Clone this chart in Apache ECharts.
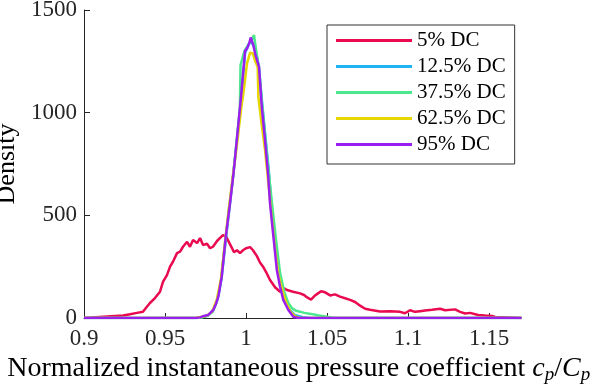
<!DOCTYPE html>
<html>
<head>
<meta charset="utf-8">
<script src="https://cdn.jsdelivr.net/npm/echarts@6/dist/echarts.min.js"></script>
<style>html,body{margin:0;padding:0;background:#fff}#c{width:598px;height:386px}</style>
</head>
<body>
<div id="c"></div>
<script>
const seriesNames = ['5% DC', '12.5% DC', '37.5% DC', '62.5% DC', '95% DC'];
const xTicks = [0.9, 0.95, 1.0, 1.05, 1.1, 1.15];
const xTickLabels = ['0.9', '0.95', '1', '1.05', '1.1', '1.15'];
const yTicks = [0, 500, 1000, 1500];

const x5 = [0.9, 0.9241, 0.9284, 0.9327, 0.9364, 0.9383, 0.9407, 0.9438, 0.9469, 0.9488, 0.9512, 0.9531, 0.9549, 0.9574, 0.9593, 0.9611, 0.9636, 0.9654, 0.9673, 0.9698, 0.9716, 0.9735, 0.9759, 0.9778, 0.9796, 0.9821, 0.9840, 0.9858, 0.9877, 0.9889, 0.9907, 0.9926, 0.9944, 0.9963, 0.9981, 1.0, 1.0025, 1.0043, 1.0068, 1.0086, 1.0105, 1.0123, 1.0148, 1.0179, 1.021, 1.0235, 1.0253, 1.029, 1.0333, 1.0358, 1.0377, 1.0401, 1.0426, 1.0444, 1.0463, 1.0488, 1.0519, 1.0549, 1.058, 1.0611, 1.0642, 1.0673, 1.0704, 1.0735, 1.0765, 1.0827, 1.0889, 1.0951, 1.0981, 1.1012, 1.1043, 1.1074, 1.1105, 1.1148, 1.1198, 1.1228, 1.129, 1.1321, 1.1352, 1.1383, 1.1432, 1.1475, 1.1519, 1.1537, 1.17];
const y5 = [0, 12, 18, 25, 30, 50, 73, 97, 128, 177, 209, 250, 274, 316, 323, 347, 371, 347, 380, 365, 389, 355, 362, 340, 347, 375, 390, 404, 396, 400, 350, 320, 330, 316, 330, 340, 345, 330, 300, 270, 250, 225, 185, 150, 128, 145, 136, 128, 120, 112, 100, 90, 110, 120, 130, 125, 110, 115, 104, 96, 88, 78, 60, 45, 40, 32, 33, 30, 23, 38, 30, 33, 36, 40, 45, 38, 42, 30, 22, 25, 15, 12, 10, 5, 0];

const x12 = [0.9, 0.9695, 0.9725, 0.976, 0.979, 0.981, 0.983, 0.985, 0.9875, 0.99, 0.992, 0.9943, 0.997, 0.9994, 1.0015, 1.003, 1.005, 1.0065, 1.008, 1.01, 1.012, 1.014, 1.0155, 1.0175, 1.0195, 1.0215, 1.0235, 1.027, 1.03, 1.035, 1.04, 1.17];
const y12 = [0, 0, 3, 10, 30, 60, 110, 200, 380, 550, 690, 860, 1070, 1290, 1330, 1350, 1320, 1280, 1215, 1040, 880, 720, 570, 410, 250, 160, 95, 40, 15, 4, 0, 0];

const x37 = [0.9, 0.97, 0.973, 0.9765, 0.9795, 0.982, 0.9845, 0.987, 0.9895, 0.992, 0.9942, 0.9962, 0.9966, 0.999, 1.0019, 1.0035, 1.0049, 1.0065, 1.008, 1.0098, 1.012, 1.014, 1.016, 1.0185, 1.021, 1.0235, 1.026, 1.0285, 1.031, 1.036, 1.04, 1.045, 1.05, 1.054, 1.17];
const y37 = [0, 0, 4, 12, 30, 80, 180, 360, 530, 690, 860, 1020, 1232, 1300, 1337, 1353, 1378, 1290, 1220, 1050, 870, 710, 560, 380, 220, 130, 75, 47, 35, 25, 20, 12, 6, 0, 0];

const x62 = [0.9, 0.9685, 0.972, 0.976, 0.979, 0.982, 0.9845, 0.987, 0.9895, 0.992, 0.9945, 0.997, 0.9985, 1.0006, 1.0025, 1.0042, 1.0058, 1.0072, 1.0076, 1.0095, 1.0117, 1.014, 1.016, 1.018, 1.02, 1.0225, 1.025, 1.0275, 1.0305, 1.033, 1.17];
const y62 = [0, 0, 5, 12, 30, 90, 190, 370, 540, 700, 850, 1020, 1102, 1240, 1292, 1288, 1248, 1223, 1077, 950, 820, 640, 480, 330, 210, 130, 70, 30, 8, 0, 0];

const x95 = [0.9, 0.969, 0.9716, 0.974, 0.9767, 0.9798, 0.9815, 0.9829, 0.985, 0.9875, 0.9901, 0.9922, 0.9943, 0.9969, 0.9994, 1.0006, 1.0019, 1.0029, 1.0045, 1.0056, 1.008, 1.0097, 1.0117, 1.0136, 1.0148, 1.0169, 1.019, 1.021, 1.023, 1.0261, 1.0292, 1.0321, 1.17];
const y95 = [0, 0, 3, 10, 15, 39, 70, 104, 201, 396, 558, 700, 866, 1077, 1301, 1313, 1337, 1366, 1329, 1288, 1223, 1029, 866, 700, 558, 396, 234, 152, 88, 39, 6, 0, 0];

const colors = ['#ea0a4f', '#1eb4f5', '#4be88d', '#e6d700', '#9b1ef0'];
const xs = [x5, x12, x37, x62, x95];
const ys = [y5, y12, y37, y62, y95];

const FONT = 'Liberation Serif';
const TXT = '#262626';

const chart = echarts.init(document.getElementById('c'), null, {renderer: 'canvas'});
chart.setOption({
  animation: false,
  backgroundColor: '#fff',
  color: colors,
  grid: {left: 84, right: 76.5, top: 10, bottom: 68, containLabel: false, outerBoundsMode: 'none'},
  legend: {
    orient: 'vertical',
    left: 327, top: 25,
    data: seriesNames,
    icon: 'rect',
    itemWidth: 76, itemHeight: 3, itemGap: 5, itemTextGap: 6,
    padding: [5, 9, 9, 9],
    borderColor: '#333', borderWidth: 1, backgroundColor: '#fff',
    textStyle: {fontFamily: FONT, fontSize: 21, color: '#000', lineHeight: 21}
  },
  xAxis: {
    type: 'value', min: 0.9, max: 1.17, interval: 0.05,
    splitLine: {show: false},
    axisLine: {show: true, lineStyle: {color: TXT, width: 1}},
    axisTick: {show: true, inside: true, length: 5, customValues: xTicks, lineStyle: {color: TXT}},
    axisLabel: {
      customValues: xTicks,
      margin: 9,
      fontFamily: FONT, fontSize: 23, color: TXT,
      formatter: v => { const i = xTicks.findIndex(t => Math.abs(t - v) < 1e-9); return i >= 0 ? xTickLabels[i] : ''; }
    },
    name: '{n|Normalized instantaneous pressure coefficient }{i|c}{s|p}{n|/}{i|C}{s|p}',
    nameLocation: 'middle', nameGap: 31,
    nameTextStyle: {
      fontFamily: FONT, fontSize: 28, color: '#000', padding: [0, 8, 0, 0],
      rich: {
        n: {fontFamily: FONT, fontSize: 28, color: '#000'},
        i: {fontFamily: FONT, fontSize: 28, fontStyle: 'italic', color: '#000'},
        s: {fontFamily: FONT, fontSize: 19, fontStyle: 'italic', color: '#000', padding: [12, 0, 0, 0]}
      }
    }
  },
  yAxis: {
    type: 'value', min: 0, max: 1500, interval: 500,
    splitLine: {show: false},
    axisLine: {show: true, lineStyle: {color: TXT, width: 1}},
    axisTick: {show: true, inside: true, length: 6, lineStyle: {color: TXT}},
    axisLabel: {margin: 7, fontFamily: FONT, fontSize: 23, color: TXT, formatter: v => String(v)},
    name: 'Density', nameLocation: 'middle', nameGap: 55,
    nameTextStyle: {fontFamily: FONT, fontSize: 26, color: '#000'}
  },
  series: seriesNames.map((n, k) => ({
    name: n, type: 'line', showSymbol: false, symbol: 'none',
    data: xs[k].map((x, j) => [x, ys[k][j]]),
    lineStyle: {width: 2.5, color: colors[k]},
    itemStyle: {color: colors[k]},
    z: 2 + k
  }))
});
</script>
</body>
</html>
